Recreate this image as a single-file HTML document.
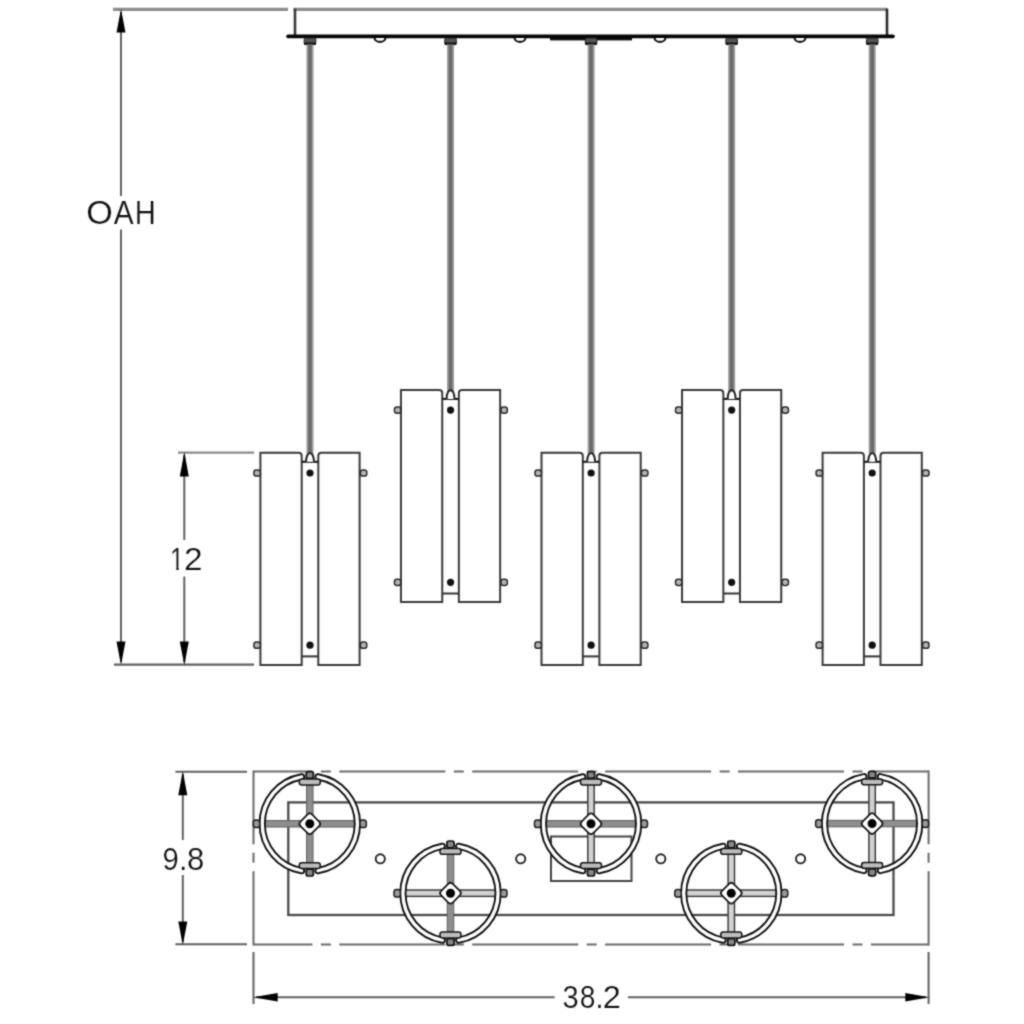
<!DOCTYPE html>
<html><head><meta charset="utf-8"><style>
html,body{margin:0;padding:0;background:#fff;width:1024px;height:1024px;overflow:hidden}
svg{display:block;filter:grayscale(1)}
text{font-family:"Liberation Sans",sans-serif;fill:#111;stroke:#fff;stroke-width:0.2px}
</style></head><body>
<svg width="1024" height="1024" viewBox="0 0 1024 1024">
<defs><filter id="soft" x="0" y="0" width="1024" height="1024" filterUnits="userSpaceOnUse" color-interpolation-filters="sRGB"><feConvolveMatrix order="3" kernelMatrix="1 2 1 2 10 2 1 2 1" divisor="22" edgeMode="duplicate"/></filter></defs>
<g filter="url(#soft)">
<rect width="1024" height="1024" fill="#fff"/>
<line x1="113" y1="9.3" x2="288" y2="9.3" stroke="#8c8c8c" stroke-width="3.2" />
<line x1="293.5" y1="9.3" x2="887" y2="9.3" stroke="#8c8c8c" stroke-width="3.2" />
<line x1="295" y1="8.5" x2="295" y2="36" stroke="#3a3a3a" stroke-width="2.6" />
<line x1="887" y1="8.5" x2="887" y2="36" stroke="#2a2a2a" stroke-width="2.6" />
<rect x="550" y="36" width="82" height="4.4" fill="#111"/>
<line x1="288" y1="36.4" x2="893" y2="36.4" stroke="#050505" stroke-width="3.6" stroke-linecap="round"/>
<path d="M374.6,38 A5.4,3.9 0 0 0 385.4,38" fill="#fff" stroke="#111" stroke-width="2.1"/>
<path d="M514.6,38 A5.4,3.9 0 0 0 525.4,38" fill="#fff" stroke="#111" stroke-width="2.1"/>
<path d="M654.6,38 A5.4,3.9 0 0 0 665.4,38" fill="#fff" stroke="#111" stroke-width="2.1"/>
<path d="M794.6,38 A5.4,3.9 0 0 0 805.4,38" fill="#fff" stroke="#111" stroke-width="2.1"/>
<rect x="304.2" y="38" width="11.6" height="6.6" rx="1.5" fill="#555" stroke="#222" stroke-width="1"/>
<rect x="304.2" y="42.5" width="11.6" height="2.4" fill="#111"/>
<rect x="306.5" y="44.5" width="7" height="409.3" fill="#9c9c9c"/>
<rect x="308.2" y="44.5" width="3.6" height="409.3" fill="#6a6a6a"/>
<path d="M260.4,452.8 L298.5,452.8 Q301.7,452.8 301.7,456.0 L301.7,665.0 L260.4,665.0 Z" fill="#fff" stroke="#3a3a3a" stroke-width="2"/>
<path d="M318.3,456.0 Q318.3,452.8 321.5,452.8 L359.6,452.8 L359.6,665.0 L318.3,665.0 Z" fill="#fff" stroke="#3a3a3a" stroke-width="2"/>
<line x1="301.7" y1="461.8" x2="318.3" y2="461.8" stroke="#111" stroke-width="2" />
<line x1="301.7" y1="656.4" x2="318.3" y2="656.4" stroke="#333" stroke-width="2" />
<path d="M306.0,461.8 C306.3,450.2 313.7,450.2 314.0,461.8" fill="#fff" stroke="#222" stroke-width="1.9"/>
<circle cx="310.0" cy="473.0" r="3.6" fill="#111"/>
<rect x="253.90000000000003" y="469.9" width="6.4" height="6.2" rx="2.4" fill="#b4b4b4" stroke="#2a2a2a" stroke-width="1.5"/>
<rect x="360.40000000000003" y="469.9" width="6.4" height="6.2" rx="2.4" fill="#b4b4b4" stroke="#2a2a2a" stroke-width="1.5"/>
<circle cx="310.0" cy="645.2" r="3.6" fill="#111"/>
<rect x="253.90000000000003" y="642.1" width="6.4" height="6.2" rx="2.4" fill="#b4b4b4" stroke="#2a2a2a" stroke-width="1.5"/>
<rect x="360.40000000000003" y="642.1" width="6.4" height="6.2" rx="2.4" fill="#b4b4b4" stroke="#2a2a2a" stroke-width="1.5"/>
<rect x="444.75" y="38" width="11.6" height="6.6" rx="1.5" fill="#555" stroke="#222" stroke-width="1"/>
<rect x="444.75" y="42.5" width="11.6" height="2.4" fill="#111"/>
<rect x="447.05" y="44.5" width="7" height="346.4" fill="#9c9c9c"/>
<rect x="448.75" y="44.5" width="3.6" height="346.4" fill="#6a6a6a"/>
<path d="M400.95,389.9 L439.05,389.9 Q442.25,389.9 442.25,393.09999999999997 L442.25,602.0999999999999 L400.95,602.0999999999999 Z" fill="#fff" stroke="#3a3a3a" stroke-width="2"/>
<path d="M458.85,393.09999999999997 Q458.85,389.9 462.05,389.9 L500.15000000000003,389.9 L500.15000000000003,602.0999999999999 L458.85,602.0999999999999 Z" fill="#fff" stroke="#3a3a3a" stroke-width="2"/>
<line x1="442.25" y1="398.9" x2="458.85" y2="398.9" stroke="#111" stroke-width="2" />
<line x1="442.25" y1="593.4999999999999" x2="458.85" y2="593.4999999999999" stroke="#333" stroke-width="2" />
<path d="M446.55,398.9 C446.85,387.29999999999995 454.25,387.29999999999995 454.55,398.9" fill="#fff" stroke="#222" stroke-width="1.9"/>
<circle cx="450.55" cy="410.09999999999997" r="3.6" fill="#111"/>
<rect x="394.45000000000005" y="406.99999999999994" width="6.4" height="6.2" rx="2.4" fill="#b4b4b4" stroke="#2a2a2a" stroke-width="1.5"/>
<rect x="500.95000000000005" y="406.99999999999994" width="6.4" height="6.2" rx="2.4" fill="#b4b4b4" stroke="#2a2a2a" stroke-width="1.5"/>
<circle cx="450.55" cy="582.3" r="3.6" fill="#111"/>
<rect x="394.45000000000005" y="579.1999999999999" width="6.4" height="6.2" rx="2.4" fill="#b4b4b4" stroke="#2a2a2a" stroke-width="1.5"/>
<rect x="500.95000000000005" y="579.1999999999999" width="6.4" height="6.2" rx="2.4" fill="#b4b4b4" stroke="#2a2a2a" stroke-width="1.5"/>
<rect x="585.3000000000001" y="38" width="11.6" height="6.6" rx="1.5" fill="#555" stroke="#222" stroke-width="1"/>
<rect x="585.3000000000001" y="42.5" width="11.6" height="2.4" fill="#111"/>
<rect x="587.6" y="44.5" width="7" height="409.3" fill="#9c9c9c"/>
<rect x="589.3000000000001" y="44.5" width="3.6" height="409.3" fill="#6a6a6a"/>
<path d="M541.5,452.8 L579.6,452.8 Q582.8000000000001,452.8 582.8000000000001,456.0 L582.8000000000001,665.0 L541.5,665.0 Z" fill="#fff" stroke="#3a3a3a" stroke-width="2"/>
<path d="M599.4,456.0 Q599.4,452.8 602.6,452.8 L640.7,452.8 L640.7,665.0 L599.4,665.0 Z" fill="#fff" stroke="#3a3a3a" stroke-width="2"/>
<line x1="582.8000000000001" y1="461.8" x2="599.4" y2="461.8" stroke="#111" stroke-width="2" />
<line x1="582.8000000000001" y1="656.4" x2="599.4" y2="656.4" stroke="#333" stroke-width="2" />
<path d="M587.1,461.8 C587.4,450.2 594.8000000000001,450.2 595.1,461.8" fill="#fff" stroke="#222" stroke-width="1.9"/>
<circle cx="591.1" cy="473.0" r="3.6" fill="#111"/>
<rect x="535.0" y="469.9" width="6.4" height="6.2" rx="2.4" fill="#b4b4b4" stroke="#2a2a2a" stroke-width="1.5"/>
<rect x="641.5" y="469.9" width="6.4" height="6.2" rx="2.4" fill="#b4b4b4" stroke="#2a2a2a" stroke-width="1.5"/>
<circle cx="591.1" cy="645.2" r="3.6" fill="#111"/>
<rect x="535.0" y="642.1" width="6.4" height="6.2" rx="2.4" fill="#b4b4b4" stroke="#2a2a2a" stroke-width="1.5"/>
<rect x="641.5" y="642.1" width="6.4" height="6.2" rx="2.4" fill="#b4b4b4" stroke="#2a2a2a" stroke-width="1.5"/>
<rect x="725.8500000000001" y="38" width="11.6" height="6.6" rx="1.5" fill="#555" stroke="#222" stroke-width="1"/>
<rect x="725.8500000000001" y="42.5" width="11.6" height="2.4" fill="#111"/>
<rect x="728.1500000000001" y="44.5" width="7" height="346.4" fill="#9c9c9c"/>
<rect x="729.8500000000001" y="44.5" width="3.6" height="346.4" fill="#6a6a6a"/>
<path d="M682.0500000000001,389.9 L720.1500000000001,389.9 Q723.3500000000001,389.9 723.3500000000001,393.09999999999997 L723.3500000000001,602.0999999999999 L682.0500000000001,602.0999999999999 Z" fill="#fff" stroke="#3a3a3a" stroke-width="2"/>
<path d="M739.95,393.09999999999997 Q739.95,389.9 743.1500000000001,389.9 L781.2500000000001,389.9 L781.2500000000001,602.0999999999999 L739.95,602.0999999999999 Z" fill="#fff" stroke="#3a3a3a" stroke-width="2"/>
<line x1="723.3500000000001" y1="398.9" x2="739.95" y2="398.9" stroke="#111" stroke-width="2" />
<line x1="723.3500000000001" y1="593.4999999999999" x2="739.95" y2="593.4999999999999" stroke="#333" stroke-width="2" />
<path d="M727.6500000000001,398.9 C727.95,387.29999999999995 735.3500000000001,387.29999999999995 735.6500000000001,398.9" fill="#fff" stroke="#222" stroke-width="1.9"/>
<circle cx="731.6500000000001" cy="410.09999999999997" r="3.6" fill="#111"/>
<rect x="675.5500000000001" y="406.99999999999994" width="6.4" height="6.2" rx="2.4" fill="#b4b4b4" stroke="#2a2a2a" stroke-width="1.5"/>
<rect x="782.0500000000001" y="406.99999999999994" width="6.4" height="6.2" rx="2.4" fill="#b4b4b4" stroke="#2a2a2a" stroke-width="1.5"/>
<circle cx="731.6500000000001" cy="582.3" r="3.6" fill="#111"/>
<rect x="675.5500000000001" y="579.1999999999999" width="6.4" height="6.2" rx="2.4" fill="#b4b4b4" stroke="#2a2a2a" stroke-width="1.5"/>
<rect x="782.0500000000001" y="579.1999999999999" width="6.4" height="6.2" rx="2.4" fill="#b4b4b4" stroke="#2a2a2a" stroke-width="1.5"/>
<rect x="866.4000000000001" y="38" width="11.6" height="6.6" rx="1.5" fill="#555" stroke="#222" stroke-width="1"/>
<rect x="866.4000000000001" y="42.5" width="11.6" height="2.4" fill="#111"/>
<rect x="868.7" y="44.5" width="7" height="409.3" fill="#9c9c9c"/>
<rect x="870.4000000000001" y="44.5" width="3.6" height="409.3" fill="#6a6a6a"/>
<path d="M822.6,452.8 L860.7,452.8 Q863.9000000000001,452.8 863.9000000000001,456.0 L863.9000000000001,665.0 L822.6,665.0 Z" fill="#fff" stroke="#3a3a3a" stroke-width="2"/>
<path d="M880.5,456.0 Q880.5,452.8 883.7,452.8 L921.8000000000001,452.8 L921.8000000000001,665.0 L880.5,665.0 Z" fill="#fff" stroke="#3a3a3a" stroke-width="2"/>
<line x1="863.9000000000001" y1="461.8" x2="880.5" y2="461.8" stroke="#111" stroke-width="2" />
<line x1="863.9000000000001" y1="656.4" x2="880.5" y2="656.4" stroke="#333" stroke-width="2" />
<path d="M868.2,461.8 C868.5,450.2 875.9000000000001,450.2 876.2,461.8" fill="#fff" stroke="#222" stroke-width="1.9"/>
<circle cx="872.2" cy="473.0" r="3.6" fill="#111"/>
<rect x="816.1" y="469.9" width="6.4" height="6.2" rx="2.4" fill="#b4b4b4" stroke="#2a2a2a" stroke-width="1.5"/>
<rect x="922.6" y="469.9" width="6.4" height="6.2" rx="2.4" fill="#b4b4b4" stroke="#2a2a2a" stroke-width="1.5"/>
<circle cx="872.2" cy="645.2" r="3.6" fill="#111"/>
<rect x="816.1" y="642.1" width="6.4" height="6.2" rx="2.4" fill="#b4b4b4" stroke="#2a2a2a" stroke-width="1.5"/>
<rect x="922.6" y="642.1" width="6.4" height="6.2" rx="2.4" fill="#b4b4b4" stroke="#2a2a2a" stroke-width="1.5"/>
<line x1="121" y1="12" x2="121" y2="196" stroke="#606060" stroke-width="2" />
<line x1="121" y1="229.5" x2="121" y2="662" stroke="#606060" stroke-width="2" />
<polygon points="121,9.0 125.50,32.50 116.50,32.50" fill="#000"/>
<polygon points="121,665.2 116.50,641.50 125.50,641.50" fill="#000"/>
<line x1="114" y1="664.6" x2="254" y2="664.6" stroke="#606060" stroke-width="2.2" />
<text transform="translate(86.28,224.3) scale(1.0250,1)" x="0" y="0" font-size="33.3" text-anchor="start">O</text>
<text transform="translate(113.74,224.3) scale(0.8967,1)" x="0" y="0" font-size="33.3" text-anchor="start">A</text>
<text transform="translate(134.71,224.3) scale(0.8763,1)" x="0" y="0" font-size="33.3" text-anchor="start">H</text>
<line x1="178" y1="452.7" x2="254" y2="452.7" stroke="#8a8a8a" stroke-width="2.2" />
<line x1="184.3" y1="455" x2="184.3" y2="540" stroke="#606060" stroke-width="2" />
<line x1="184.3" y1="576.5" x2="184.3" y2="662" stroke="#606060" stroke-width="2" />
<polygon points="184.3,452.0 188.80,476.40 179.80,476.40" fill="#000"/>
<polygon points="184.3,665.2 179.80,641.50 188.80,641.50" fill="#000"/>
<clipPath id="c1"><rect x="-10" y="-60" width="60" height="56.854"/><rect x="7.846" y="-3.346" width="2.875" height="3.946"/></clipPath>
<text transform="translate(170.09,569.9) scale(0.7973,1)" x="0" y="0" font-size="31.4" text-anchor="start" clip-path="url(#c1)">1</text>
<text transform="translate(183.92,569.9) scale(1.0626,1)" x="0" y="0" font-size="31.4" text-anchor="start">2</text>
<line x1="253.4" y1="771.6" x2="929" y2="771.6" stroke="#6a6a6a" stroke-width="2" stroke-dasharray="106 8.5 10 8.4" stroke-dashoffset="47"/>
<line x1="253.4" y1="944.5" x2="929" y2="944.5" stroke="#6a6a6a" stroke-width="2" stroke-dasharray="106 8.5 10 8.4" stroke-dashoffset="47"/>
<line x1="253.5" y1="770.6" x2="253.5" y2="945.5" stroke="#6a6a6a" stroke-width="2" stroke-dasharray="106 8.5 10 8.4" stroke-dashoffset="32.3"/>
<line x1="928.6" y1="770.6" x2="928.6" y2="945.5" stroke="#6a6a6a" stroke-width="2" stroke-dasharray="106 8.5 10 8.4" stroke-dashoffset="32.3"/>
<line x1="253.5" y1="952" x2="253.5" y2="1004" stroke="#606060" stroke-width="2" />
<line x1="928.6" y1="952" x2="928.6" y2="1004" stroke="#606060" stroke-width="2" />
<line x1="175.4" y1="771.7" x2="247" y2="771.7" stroke="#606060" stroke-width="2" />
<line x1="175.4" y1="944.3" x2="247" y2="944.3" stroke="#606060" stroke-width="2" />
<rect x="288.3" y="802.4" width="605.2" height="112.6" fill="none" stroke="#4a4a4a" stroke-width="2.3"/>
<rect x="551" y="836.5" width="80.5" height="44.5" fill="none" stroke="#444" stroke-width="2"/>
<circle cx="380.3" cy="858.8" r="4.6" fill="#fff" stroke="#222" stroke-width="1.9"/>
<circle cx="520.7" cy="858.8" r="4.6" fill="#fff" stroke="#222" stroke-width="1.9"/>
<circle cx="660.8" cy="858.8" r="4.6" fill="#fff" stroke="#222" stroke-width="1.9"/>
<circle cx="800.6" cy="858.8" r="4.6" fill="#fff" stroke="#222" stroke-width="1.9"/>
<rect x="256.8" y="820.5999999999999" width="106" height="6.4" fill="#8e8e8e" stroke="#666" stroke-width="1.1"/>
<rect x="306.6" y="783.8" width="6.4" height="80" fill="#8e8e8e" stroke="#666" stroke-width="1.1"/>
<path d="M318.00,776.91 A47.6,47.6 0 0 1 318.00,870.69" fill="none" stroke="#111" stroke-width="7.2" stroke-linecap="round"/>
<path d="M301.60,776.91 A47.6,47.6 0 0 0 301.60,870.69" fill="none" stroke="#111" stroke-width="7.2" stroke-linecap="round"/>
<path d="M318.00,776.91 A47.6,47.6 0 0 1 318.00,870.69" fill="none" stroke="#fff" stroke-width="3.4" stroke-linecap="round"/>
<path d="M301.60,776.91 A47.6,47.6 0 0 0 301.60,870.69" fill="none" stroke="#fff" stroke-width="3.4" stroke-linecap="round"/>
<rect x="306.2" y="771.6" width="7.2" height="6.8" rx="2" fill="#888" stroke="#111" stroke-width="1.7"/>
<rect x="299.3" y="779.1" width="21" height="5.8" rx="2.4" fill="#bdbdbd" stroke="#151515" stroke-width="1.5"/>
<rect x="306.2" y="869.1999999999999" width="7.2" height="6.8" rx="2" fill="#888" stroke="#111" stroke-width="1.7"/>
<rect x="299.3" y="862.6999999999999" width="21" height="5.8" rx="2.4" fill="#bdbdbd" stroke="#151515" stroke-width="1.5"/>
<rect x="253.3" y="820.0" width="6.4" height="7.6" rx="2.6" fill="#9a9a9a" stroke="#1e1e1e" stroke-width="1.5"/>
<rect x="359.90000000000003" y="820.0" width="6.4" height="7.6" rx="2.6" fill="#9a9a9a" stroke="#1e1e1e" stroke-width="1.5"/>
<rect x="301.6" y="815.5999999999999" width="16.4" height="16.4" rx="3.2" transform="rotate(45 309.8 823.8)" fill="#fff" stroke="#1a1a1a" stroke-width="1.8"/>
<circle cx="309.8" cy="823.8" r="4.5" fill="#000"/>
<rect x="397.5" y="890.0" width="106" height="6.4" fill="#d2d2d2" stroke="#333" stroke-width="1.4"/>
<rect x="447.3" y="853.2" width="6.4" height="80" fill="#8e8e8e" stroke="#666" stroke-width="1.1"/>
<path d="M458.70,846.31 A47.6,47.6 0 0 1 458.70,940.09" fill="none" stroke="#111" stroke-width="7.2" stroke-linecap="round"/>
<path d="M442.30,846.31 A47.6,47.6 0 0 0 442.30,940.09" fill="none" stroke="#111" stroke-width="7.2" stroke-linecap="round"/>
<path d="M458.70,846.31 A47.6,47.6 0 0 1 458.70,940.09" fill="none" stroke="#fff" stroke-width="3.4" stroke-linecap="round"/>
<path d="M442.30,846.31 A47.6,47.6 0 0 0 442.30,940.09" fill="none" stroke="#fff" stroke-width="3.4" stroke-linecap="round"/>
<rect x="446.9" y="841.0000000000001" width="7.2" height="6.8" rx="2" fill="#888" stroke="#111" stroke-width="1.7"/>
<rect x="440.0" y="848.5000000000001" width="21" height="5.8" rx="2.4" fill="#bdbdbd" stroke="#151515" stroke-width="1.5"/>
<rect x="446.9" y="938.6" width="7.2" height="6.8" rx="2" fill="#888" stroke="#111" stroke-width="1.7"/>
<rect x="440.0" y="932.1" width="21" height="5.8" rx="2.4" fill="#bdbdbd" stroke="#151515" stroke-width="1.5"/>
<rect x="394.0" y="889.4000000000001" width="6.4" height="7.6" rx="2.6" fill="#9a9a9a" stroke="#1e1e1e" stroke-width="1.5"/>
<rect x="500.6" y="889.4000000000001" width="6.4" height="7.6" rx="2.6" fill="#9a9a9a" stroke="#1e1e1e" stroke-width="1.5"/>
<rect x="442.3" y="885.0" width="16.4" height="16.4" rx="3.2" transform="rotate(45 450.5 893.2)" fill="#fff" stroke="#1a1a1a" stroke-width="1.8"/>
<circle cx="450.5" cy="893.2" r="4.5" fill="#000"/>
<rect x="538.0" y="820.5999999999999" width="106" height="6.4" fill="#8e8e8e" stroke="#666" stroke-width="1.1"/>
<rect x="587.8" y="783.8" width="6.4" height="80" fill="#d2d2d2" stroke="#333" stroke-width="1.4"/>
<path d="M599.20,776.91 A47.6,47.6 0 0 1 599.20,870.69" fill="none" stroke="#111" stroke-width="7.2" stroke-linecap="round"/>
<path d="M582.80,776.91 A47.6,47.6 0 0 0 582.80,870.69" fill="none" stroke="#111" stroke-width="7.2" stroke-linecap="round"/>
<path d="M599.20,776.91 A47.6,47.6 0 0 1 599.20,870.69" fill="none" stroke="#fff" stroke-width="3.4" stroke-linecap="round"/>
<path d="M582.80,776.91 A47.6,47.6 0 0 0 582.80,870.69" fill="none" stroke="#fff" stroke-width="3.4" stroke-linecap="round"/>
<rect x="587.4" y="771.6" width="7.2" height="6.8" rx="2" fill="#888" stroke="#111" stroke-width="1.7"/>
<rect x="580.5" y="779.1" width="21" height="5.8" rx="2.4" fill="#bdbdbd" stroke="#151515" stroke-width="1.5"/>
<rect x="587.4" y="869.1999999999999" width="7.2" height="6.8" rx="2" fill="#888" stroke="#111" stroke-width="1.7"/>
<rect x="580.5" y="862.6999999999999" width="21" height="5.8" rx="2.4" fill="#bdbdbd" stroke="#151515" stroke-width="1.5"/>
<rect x="534.5" y="820.0" width="6.4" height="7.6" rx="2.6" fill="#9a9a9a" stroke="#1e1e1e" stroke-width="1.5"/>
<rect x="641.0999999999999" y="820.0" width="6.4" height="7.6" rx="2.6" fill="#9a9a9a" stroke="#1e1e1e" stroke-width="1.5"/>
<rect x="582.8" y="815.5999999999999" width="16.4" height="16.4" rx="3.2" transform="rotate(45 591.0 823.8)" fill="#fff" stroke="#1a1a1a" stroke-width="1.8"/>
<circle cx="591.0" cy="823.8" r="4.5" fill="#000"/>
<rect x="678.3" y="890.0" width="106" height="6.4" fill="#d2d2d2" stroke="#333" stroke-width="1.4"/>
<rect x="728.0999999999999" y="853.2" width="6.4" height="80" fill="#d2d2d2" stroke="#333" stroke-width="1.4"/>
<path d="M739.50,846.31 A47.6,47.6 0 0 1 739.50,940.09" fill="none" stroke="#111" stroke-width="7.2" stroke-linecap="round"/>
<path d="M723.10,846.31 A47.6,47.6 0 0 0 723.10,940.09" fill="none" stroke="#111" stroke-width="7.2" stroke-linecap="round"/>
<path d="M739.50,846.31 A47.6,47.6 0 0 1 739.50,940.09" fill="none" stroke="#fff" stroke-width="3.4" stroke-linecap="round"/>
<path d="M723.10,846.31 A47.6,47.6 0 0 0 723.10,940.09" fill="none" stroke="#fff" stroke-width="3.4" stroke-linecap="round"/>
<rect x="727.6999999999999" y="841.0000000000001" width="7.2" height="6.8" rx="2" fill="#888" stroke="#111" stroke-width="1.7"/>
<rect x="720.8" y="848.5000000000001" width="21" height="5.8" rx="2.4" fill="#bdbdbd" stroke="#151515" stroke-width="1.5"/>
<rect x="727.6999999999999" y="938.6" width="7.2" height="6.8" rx="2" fill="#888" stroke="#111" stroke-width="1.7"/>
<rect x="720.8" y="932.1" width="21" height="5.8" rx="2.4" fill="#bdbdbd" stroke="#151515" stroke-width="1.5"/>
<rect x="674.8" y="889.4000000000001" width="6.4" height="7.6" rx="2.6" fill="#9a9a9a" stroke="#1e1e1e" stroke-width="1.5"/>
<rect x="781.3999999999999" y="889.4000000000001" width="6.4" height="7.6" rx="2.6" fill="#9a9a9a" stroke="#1e1e1e" stroke-width="1.5"/>
<rect x="723.0999999999999" y="885.0" width="16.4" height="16.4" rx="3.2" transform="rotate(45 731.3 893.2)" fill="#fff" stroke="#1a1a1a" stroke-width="1.8"/>
<circle cx="731.3" cy="893.2" r="4.5" fill="#000"/>
<rect x="819.1" y="820.4" width="106" height="6.4" fill="#8e8e8e" stroke="#666" stroke-width="1.1"/>
<rect x="868.9" y="783.6" width="6.4" height="80" fill="#d2d2d2" stroke="#333" stroke-width="1.4"/>
<path d="M880.30,776.71 A47.6,47.6 0 0 1 880.30,870.49" fill="none" stroke="#111" stroke-width="7.2" stroke-linecap="round"/>
<path d="M863.90,776.71 A47.6,47.6 0 0 0 863.90,870.49" fill="none" stroke="#111" stroke-width="7.2" stroke-linecap="round"/>
<path d="M880.30,776.71 A47.6,47.6 0 0 1 880.30,870.49" fill="none" stroke="#fff" stroke-width="3.4" stroke-linecap="round"/>
<path d="M863.90,776.71 A47.6,47.6 0 0 0 863.90,870.49" fill="none" stroke="#fff" stroke-width="3.4" stroke-linecap="round"/>
<rect x="868.5" y="771.4000000000001" width="7.2" height="6.8" rx="2" fill="#888" stroke="#111" stroke-width="1.7"/>
<rect x="861.6" y="778.9000000000001" width="21" height="5.8" rx="2.4" fill="#bdbdbd" stroke="#151515" stroke-width="1.5"/>
<rect x="868.5" y="869.0" width="7.2" height="6.8" rx="2" fill="#888" stroke="#111" stroke-width="1.7"/>
<rect x="861.6" y="862.5" width="21" height="5.8" rx="2.4" fill="#bdbdbd" stroke="#151515" stroke-width="1.5"/>
<rect x="815.6" y="819.8000000000001" width="6.4" height="7.6" rx="2.6" fill="#9a9a9a" stroke="#1e1e1e" stroke-width="1.5"/>
<rect x="922.1999999999999" y="819.8000000000001" width="6.4" height="7.6" rx="2.6" fill="#9a9a9a" stroke="#1e1e1e" stroke-width="1.5"/>
<rect x="863.9" y="815.4" width="16.4" height="16.4" rx="3.2" transform="rotate(45 872.1 823.6)" fill="#fff" stroke="#1a1a1a" stroke-width="1.8"/>
<circle cx="872.1" cy="823.6" r="4.5" fill="#000"/>
<line x1="182.8" y1="774" x2="182.8" y2="840" stroke="#606060" stroke-width="2" />
<line x1="182.8" y1="875" x2="182.8" y2="942" stroke="#606060" stroke-width="2" />
<polygon points="182.8,771.0 187.30,795.20 178.30,795.20" fill="#000"/>
<polygon points="182.8,945.0 178.30,921.50 187.30,921.50" fill="#000"/>
<text transform="translate(162.43,870.1) scale(0.9249,1)" x="0" y="0" font-size="31.6" text-anchor="start">9</text>
<text transform="translate(178.92,870.1) scale(0.9638,1)" x="0" y="0" font-size="31.6" text-anchor="start">.</text>
<text transform="translate(187.05,870.1) scale(0.9846,1)" x="0" y="0" font-size="31.6" text-anchor="start">8</text>
<line x1="256" y1="997.2" x2="554.6" y2="997.2" stroke="#606060" stroke-width="2" />
<line x1="627.9" y1="997.2" x2="926" y2="997.2" stroke="#606060" stroke-width="2" />
<polygon points="253.0,997.2 277.70,992.90 277.70,1001.50" fill="#000"/>
<polygon points="929.3,997.2 905.30,1001.50 905.30,992.90" fill="#000"/>
<text transform="translate(562.39,1008.1) scale(0.9240,1)" x="0" y="0" font-size="31.5" text-anchor="start">3</text>
<text transform="translate(579.68,1008.1) scale(0.8930,1)" x="0" y="0" font-size="31.5" text-anchor="start">8</text>
<text transform="translate(595.22,1008.1) scale(0.9669,1)" x="0" y="0" font-size="31.5" text-anchor="start">.</text>
<text transform="translate(602.77,1008.1) scale(1.0313,1)" x="0" y="0" font-size="31.5" text-anchor="start">2</text>
</g>
</svg>
</body></html>
